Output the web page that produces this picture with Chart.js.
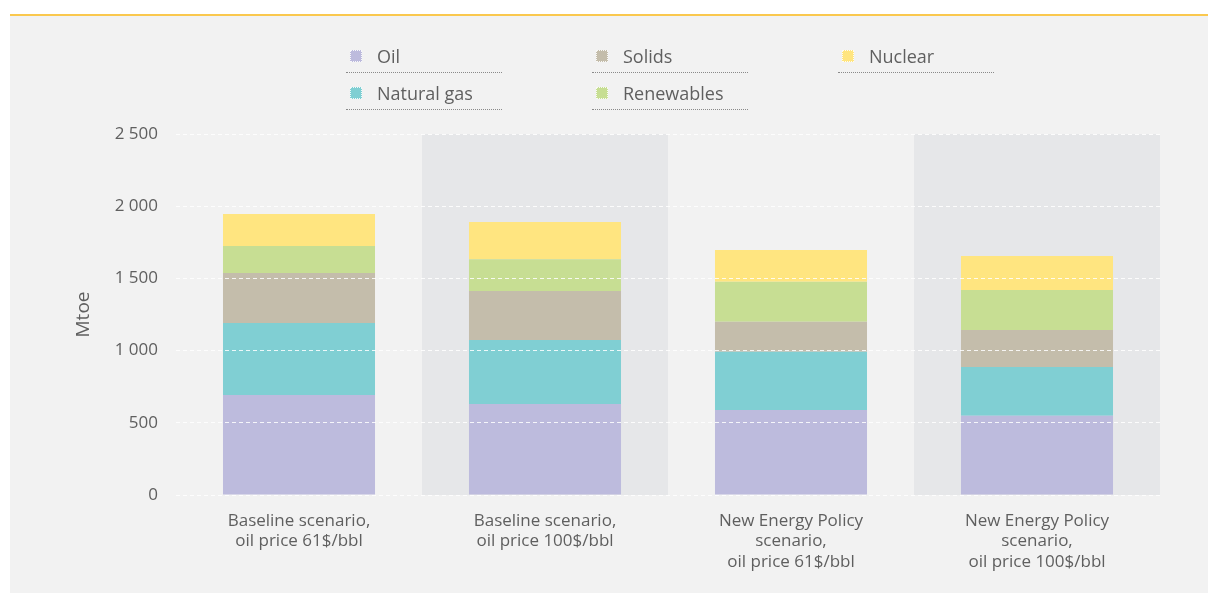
<!DOCTYPE html>
<html>
<head>
<meta charset="utf-8">
<script src="https://cdn.jsdelivr.net/npm/chart.js@4"></script>
<style>
    html, body { margin: 0; padding: 0; background: #ffffff; }
    .panel {
        position: absolute; left: 10px; top: 14px; width: 1198px; height: 579px;
        background: #f2f2f2; border-top: 2px solid #fac84e; box-sizing: border-box;
    }
    #chartWrap { position: absolute; left: 0; top: 0; width: 1208px; height: 593px; }
    .legend {
        position: absolute; left: 346px; top: 42px; width: 738px;
        display: grid; grid-template-columns: 246px 246px 246px; row-gap: 6px;
        font-family: "Open Sans", Lato, sans-serif; font-size: 18px; color: #5f5f5f;
    }
    .legend-item {
        position: relative; width: 156px; height: 30px;
        border-bottom: 1.5px dotted #8a8a8a;
    }
    .legend-item .box {
        position: absolute; left: 4px; top: 8px; width: 12px; height: 12px;
        box-sizing: border-box; border: 1px dotted rgba(255,255,255,0.9);
    }
    .legend-item .label { position: absolute; left: 31px; top: 0px; line-height: 28px; }
</style>
</head>
<body>
<div class="panel"></div>
<div id="chartWrap"><canvas id="energyChart" width="1208" height="593"></canvas></div>
<div class="legend" id="legend"></div>
<script>
// Scenario categories (x axis)
const scenarios = [
    ['Baseline scenario,', 'oil price 61$/bbl'],
    ['Baseline scenario,', 'oil price 100$/bbl'],
    ['New Energy Policy', 'scenario,', 'oil price 61$/bbl'],
    ['New Energy Policy', 'scenario,', 'oil price 100$/bbl'],
];

// Mtoe by fuel
const oil         = [693, 630, 589, 549];
const naturalGas  = [498, 443, 403, 337];
const solids      = [346, 340, 208, 257];
const renewables  = [187, 219, 277, 277];
const nuclear     = [222, 259, 220, 235];

const yTicks = [0, 500, 1000, 1500, 2000, 2500];

const fuels = [
    { name: 'Oil',         data: oil,        color: '#bdbbdd' },
    { name: 'Natural gas', data: naturalGas, color: '#80cfd3' },
    { name: 'Solids',      data: solids,     color: '#c4bdab' },
    { name: 'Renewables',  data: renewables, color: '#c7de93' },
    { name: 'Nuclear',     data: nuclear,    color: '#ffe580' },
];
const legendOrder = ['Oil', 'Solids', 'Nuclear', 'Natural gas', 'Renewables'];

const FONT = '"Open Sans", Lato, sans-serif';
const TEXT = '#5f5f5f';

// Shaded band behind every second scenario
const bandPlugin = {
    id: 'bands',
    beforeDraw(chart) {
        const { ctx, chartArea } = chart;
        const x = chart.scales.x;
        const half = (x.getPixelForValue(1) - x.getPixelForValue(0)) / 2;
        ctx.save();
        ctx.fillStyle = '#e6e7e9';
        for (let i = 1; i < scenarios.length; i += 2) {
            const cx = x.getPixelForValue(i);
            ctx.fillRect(cx - half, chartArea.top, half * 2, chartArea.bottom - chartArea.top);
        }
        ctx.restore();
    }
};

const chart = new Chart(document.getElementById('energyChart'), {
    type: 'bar',
    data: {
        labels: scenarios,
        datasets: fuels.map(f => ({
            label: f.name,
            data: f.data,
            backgroundColor: f.color,
            borderWidth: 0,
            barPercentage: 0.618,
            categoryPercentage: 1.0,
        })),
    },
    options: {
        responsive: false,
        animation: false,
        layout: { padding: { left: 72, right: 48, top: 134, bottom: 0 } },
        plugins: { legend: { display: false }, tooltip: { enabled: false } },
        scales: {
            x: {
                stacked: true,
                grid: { display: false },
                border: { display: false },
                ticks: {
                    color: TEXT, font: { family: FONT, size: 17 }, padding: 8,
                    maxRotation: 0, autoSkip: false,
                },
                afterFit(scale) { scale.height = 98; },
            },
            y: {
                stacked: true,
                min: 0, max: 2500,
                afterBuildTicks(scale) { scale.ticks = yTicks.map(v => ({ value: v })); },
                grid: {
                    color: 'rgba(255,255,255,0.85)', lineWidth: 1, z: 1,
                    drawTicks: false,
                },
                border: { display: false, dash: [4, 3] },
                ticks: {
                    color: TEXT, font: { family: FONT, size: 17 }, padding: 18,
                    callback: v => v.toLocaleString('en-US').replace(',', ' '),
                },
                title: {
                    display: true, text: 'Mtoe', color: TEXT,
                    font: { family: FONT, size: 19 }, padding: 0,
                },
                afterFit(scale) { scale.width = 104; },
            },
        },
    },
    plugins: [bandPlugin],
});

// HTML legend built from the fuel list
const legendEl = document.getElementById('legend');
legendOrder.forEach(name => {
    const f = fuels.find(ff => ff.name === name);
    const item = document.createElement('div');
    item.className = 'legend-item';
    item.innerHTML = `<span class="box" style="background:${f.color}"></span><span class="label">${f.name}</span>`;
    legendEl.appendChild(item);
});
</script>
</body>
</html>
